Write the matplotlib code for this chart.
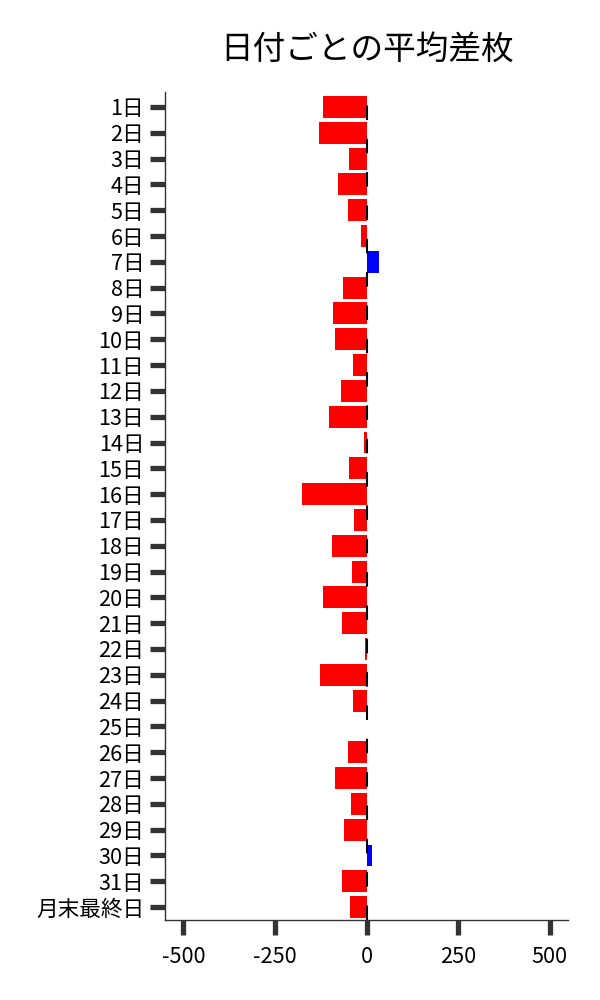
import matplotlib
matplotlib.use("Agg")
import matplotlib.pyplot as plt

plt.rcParams['font.family'] = ['Noto Sans CJK JP', 'DejaVu Sans']
plt.rcParams['axes.unicode_minus'] = False

days = [f"{i}日" for i in range(1, 32)] + ["月末最終日"]
avg_diff = [-118, -130, -49, -79, -51, -14, 35, -65, -92, -87,
            -38, -70, -103, -7, -49, -176, -35, -95, -41, -119,
            -68, -4, -127, -38, 0, -51, -87, -43, -62, 14,
            -66, -45]

colors = ['blue' if v > 0 else 'red' for v in avg_diff]

fig = plt.figure(figsize=(6, 10), dpi=100)
ax = fig.add_axes([0.275, 0.08, 0.672, 0.828])

ypos = list(range(len(days)))
ax.barh(ypos, avg_diff, height=0.85, color=colors, zorder=2)
ax.axvline(0, color='black', linestyle=(0, (7, 9)), linewidth=1.5, zorder=3)

ax.set_yticks(ypos)
ax.set_yticklabels(days)
ax.set_ylim(len(days) - 0.5, -0.58)
ax.set_xlim(-550, 550)
ax.set_xticks([-500, -250, 0, 250, 500])

ax.tick_params(axis='both', labelsize=15.6, length=11, width=3.8, color='#333333')
ax.tick_params(axis='x', pad=8)
ax.tick_params(axis='y', pad=4)
for side in ['top', 'right']:
    ax.spines[side].set_visible(False)
for side in ['left', 'bottom']:
    ax.spines[side].set_color('#333333')
    ax.spines[side].set_linewidth(1)

ax.set_title("日付ごとの平均差枚", fontsize=23.5, pad=24)

fig.savefig("out.png", dpi=100)
